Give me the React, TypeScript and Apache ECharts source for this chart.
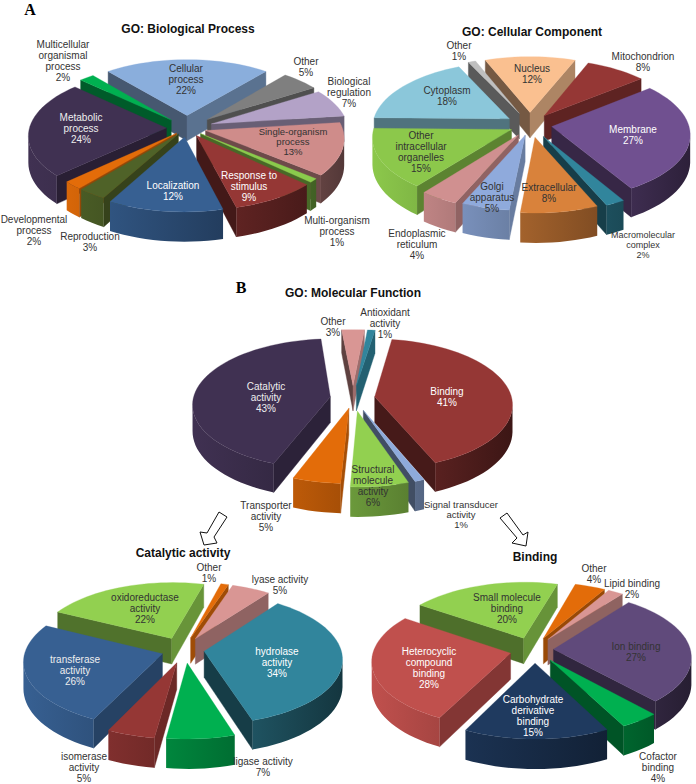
import React, { useEffect, useRef } from "react";
import * as echarts from "echarts";

// ---------- data ----------
const bpNames = ["Cellular\nprocess", "Other", "Biological\nregulation", "Single-organism\nprocess", "Multi-organism\nprocess", "Response to\nstimulus", "Localization", "Reproduction", "Developmental\nprocess", "Metabolic\nprocess", "Multicellular\norganismal\nprocess"];
const bpValues = [22, 5, 7, 13, 1, 9, 12, 3, 2, 24, 2];
const bpColors = ["#8aaedc", "#7f7f7f", "#b3a2c7", "#cf8c8a", "#8acb4c", "#953735", "#376092", "#4f6228", "#e36c09", "#403152", "#00b050"];
const bpExplode = [0.2, 0.2, 0.19, 0.14, 0.13, 0.135, 0.14, 0.11, 0.11, 0.15, 0.17];

const ccNames = ["Nucleus", "Mitochondrion", "Membrane", "Macromolecular\ncomplex", "Extracellular", "Golgi\napparatus", "Endoplasmic\nreticulum", "Other\nintracellular\norganelles", "Cytoplasm", "Other"];
const ccValues = [12, 8, 27, 2, 8, 5, 4, 15, 18, 1];
const ccColors = ["#fac090", "#953735", "#705090", "#31859c", "#d9823b", "#8faadc", "#d09090", "#8cc84b", "#8bc7da", "#bfbfbf"];
const ccExplode = [0.2, 0.18, 0.16, 0.2, 0.19, 0.16, 0.17, 0.15, 0.18, 0.2];

const mfNames = ["Binding", "Signal transducer\nactivity", "Structural\nmolecule\nactivity", "Transporter\nactivity", "Catalytic\nactivity", "Other", "Antioxidant\nactivity"];
const mfValues = [41, 1, 6, 5, 43, 3, 1];
const mfColors = ["#953735", "#8eaadb", "#92d050", "#e36c09", "#403152", "#d99694", "#31859c"];
const mfExplode = [0.16, 0.2, 0.2, 0.16, 0.167, 0.2, 0.2];

const caNames = ["Other", "lyase activity", "hydrolase\nactivity", "ligase activity", "isomerase\nactivity", "transferase\nactivity", "oxidoreductase\nactivity"];
const caValues = [1, 5, 34, 7, 5, 26, 22];
const caColors = ["#e36c09", "#d99694", "#31859c", "#00b050", "#953735", "#376092", "#92d050"];
const caExplode = [0.2, 0.2, 0.155, 0.2, 0.2, 0.16, 0.2];

const biNames = ["Other", "Lipid binding", "Ion binding", "Cofactor\nbinding", "Carbohydrate\nderivative\nbinding", "Heterocyclic\ncompound\nbinding", "Small molecule\nbinding"];
const biValues = [4, 2, 27, 4, 15, 28, 20];
const biColors = ["#e36c09", "#d99694", "#604a7b", "#00b050", "#1f3a5f", "#c0504d", "#92d050"];
const biExplode = [0.2, 0.2, 0.15, 0.2, 0.2, 0.17, 0.2];

// ---------- layout ----------
const FONT = '"Liberation Sans", Arial, sans-serif';
const DARK = "#333333";
const RX = 137;
const RY = 64.5;
const pies = [
  {
    title: "GO: Biological Process", titlePos: [188, 29],
    names: bpNames, values: bpValues, colors: bpColors, explode: bpExplode,
    cx: 187, cy: 128, start: -39.6, warp: 0,
    labels: [[186, 79, DARK], [306, 67, DARK], [349, 92, DARK], [293, 141, DARK, 9.5], [337, 231, DARK], [249, 186, "#fff"], [173, 191, "#fff"], [90, 242, DARK], [34, 230, DARK], [81, 128, "#eee"], [63, 61, DARK]],
  },
  {
    title: "GO: Cellular Component", titlePos: [532, 32],
    names: ccNames, values: ccValues, colors: ccColors, explode: ccExplode,
    cx: 530, cy: 125, start: -21.6, warp: 2,
    labels: [[532, 74, DARK], [643, 62, DARK], [633, 135, "#fff"], [643, 245, DARK, 9], [549, 193, DARK], [492, 197, DARK], [417, 244, DARK], [421, 152, DARK], [447, 96, DARK], [459, 51, DARK]],
  },
  {
    title: "GO: Molecular Function", titlePos: [353, 293],
    names: mfNames, values: mfValues, colors: mfColors, explode: mfExplode,
    cx: 353, cy: 398, start: 9, warp: 1,
    labels: [[447, 397, "#fff"], [461, 514, DARK, 9.5], [373, 486, DARK], [266, 516, DARK], [266, 397, "#eee"], [333, 327, DARK], [385, 323, DARK]],
  },
  {
    title: "Catalytic activity", titlePos: [183, 553],
    names: caNames, values: caValues, colors: caColors, explode: caExplode,
    cx: 183, cy: 650, start: 14.7, warp: 4,
    labels: [[209, 573, DARK], [280, 585, DARK], [277, 662, "#fff"], [263, 767, DARK], [84, 767, DARK], [75, 670, "#eee"], [145, 608, DARK]],
  },
  {
    title: "Binding", titlePos: [535, 557],
    names: biNames, values: biValues, colors: biColors, explode: biExplode,
    cx: 533, cy: 650, start: 15.6, warp: 4,
    labels: [[594, 574, DARK], [632, 589, DARK], [636, 652, DARK], [658, 767, DARK], [533, 716, "#fff"], [429, 668, "#fff"], [507, 608, DARK]],
  },
];
const PERSP = 0.11;
const DEPTH = 26;
const panelMarks = [["A", 30, 9], ["B", 241, 287]] as [string, number, number][];
const arrowLeft = [[219, 512], [227, 517], [214, 537], [217, 543], [204, 545], [200, 532], [207, 533]];
const arrowRight = [[500, 518], [507, 513], [523, 535], [528, 532], [526, 546], [512, 543], [517, 538]];

function shade(hex: string, f: number) {
  const n = parseInt(hex.slice(1), 16);
  const c = [(n >> 16) & 255, (n >> 8) & 255, n & 255].map((x) => Math.round(x * f));
  return `rgb(${c[0]},${c[1]},${c[2]})`;
}

function pieSeries(p: any) {
  const total = p.values.reduce((a: number, b: number) => a + b, 0);
  const proj = (u: number, v: number, down: number) => {
    const w = 1 / (1 - PERSP * v);
    return [p.cx + RX * u * w, p.cy + RY * v * w + down * DEPTH * w];
  };
  let acc = p.start;
  const rows = p.values.map((val: number, i: number) => {
    const t0 = acc;
    acc += (val / total) * 360;
    const mid = ((t0 + acc) / 2) * (Math.PI / 180);
    return { value: [val, t0, acc, i], name: p.names[i].replace(/\n/g, " "), depth: -Math.cos(mid) };
  });
  rows.sort((a: any, b: any) => a.depth - b.depth);
  return {
    type: "custom",
    coordinateSystem: "none",
    silent: true,
    data: rows.map((r: any) => ({ value: r.value, name: r.name })),
    renderItem: (_params: any, api: any) => {
      const t0 = api.value(1), t1 = api.value(2), i = api.value(3);
      const color = p.colors[i];
      const m = (((t0 + t1) / 2) * Math.PI) / 180;
      const e = p.explode[i];
      const eu = e * Math.sin(m), ev = -e * Math.cos(m);
      const unit: number[][] = [[eu, ev]];
      const sins: number[] = [0];
      const n = Math.max(2, Math.ceil((t1 - t0) / 3));
      for (let k = 0; k <= n; k++) {
        const a0 = ((t0 + ((t1 - t0) * k) / n) * Math.PI) / 180;
        // the reference's perspective turns the front of the pie a little further round
        const a = a0 + (((p.warp * (1 - Math.cos(a0))) / 2) * Math.PI) / 180;
        unit.push([eu + Math.sin(a), ev - Math.cos(a)]);
        sins.push(Math.sin(a));
      }
      const top = unit.map(([u, v]) => proj(u, v, 0));
      const bot = unit.map(([u, v]) => proj(u, v, 1));
      const children: any[] = [];
      const N = top.length;
      [[0, 1], [N - 1, 0]].forEach(([a, b]) => {
        const dx = top[b][0] - top[a][0], dy = top[b][1] - top[a][1];
        if (dx >= 0) return;
        const nx = dy / (Math.hypot(dx, dy) || 1);
        const col = shade(color, 0.58 + 0.15 * nx);
        children.push({
          type: "polygon",
          shape: { points: [top[a], top[b], bot[b], bot[a]] },
          style: { fill: col, stroke: col, lineWidth: 0.4 },
        });
      });
      const vis: number[] = [];
      for (let k = 1; k < N - 1; k++) {
        if (top[k + 1][0] - top[k][0] < 0) {
          if (!vis.length) vis.push(k);
          vis.push(k + 1);
        }
      }
      if (vis.length) {
        const pts = [...vis.map((k) => top[k]), ...vis.slice().reverse().map((k) => bot[k])];
        const sR = sins[vis[0]], sL = sins[vis[vis.length - 1]];
        const ff = (s: number) => Math.min(1, Math.max(0.38, 0.72 - 0.32 * s));
        children.push({
          type: "polygon",
          shape: { points: pts },
          style: {
            fill: new echarts.graphic.LinearGradient(0, 0, 1, 0, [
              { offset: 0, color: shade(color, ff(sL)) },
              { offset: 1, color: shade(color, ff(sR)) },
            ]),
          },
        });
      }
      children.push({ type: "polygon", shape: { points: top }, style: { fill: color, stroke: color, lineWidth: 0.3 } });
      return { type: "group", children };
    },
  };
}

function textEl(text: string, x: number, y: number, fill: string, size: number, weight = "normal", family = FONT) {
  return {
    type: "text",
    z: 100,
    silent: true,
    style: {
      text, x, y, fill,
      fontSize: size, fontWeight: weight, fontFamily: family,
      align: "center", verticalAlign: "middle",
      textAlign: "center", textVerticalAlign: "middle",
      lineHeight: size >= 10 && size < 12 ? 11 : Math.round(size * 1.1),
    },
  };
}

export default function App() {
  const ref = useRef<HTMLDivElement>(null);
  useEffect(() => {
    const chart = echarts.init(ref.current!, undefined, { renderer: "svg" });
    const elements: any[] = [];
    pies.forEach((p) => {
      elements.push(textEl(p.title, p.titlePos[0], p.titlePos[1], "#111", 12, "bold"));
      p.labels.forEach((l: any, i: number) => {
        elements.push(textEl(`${p.names[i]}\n${p.values[i]}%`, l[0], l[1], l[2], l[3] || 10));
      });
    });
    panelMarks.forEach(([s, x, y]) => elements.push(textEl(s, x, y, "#000", 16, "bold", '"Liberation Serif", serif')));
    [arrowLeft, arrowRight].forEach((pts) =>
      elements.push({ type: "polygon", z: 100, silent: true, shape: { points: pts }, style: { fill: "#fff", stroke: "#111", lineWidth: 1 } })
    );
    chart.setOption({
      animation: false,
      backgroundColor: "#ffffff",
      series: pies.map(pieSeries),
      graphic: { elements },
    });
    return () => chart.dispose();
  }, []);
  return <div ref={ref} style={{ position: "absolute", left: 0, top: 0, width: 696, height: 784 }} />;
}
